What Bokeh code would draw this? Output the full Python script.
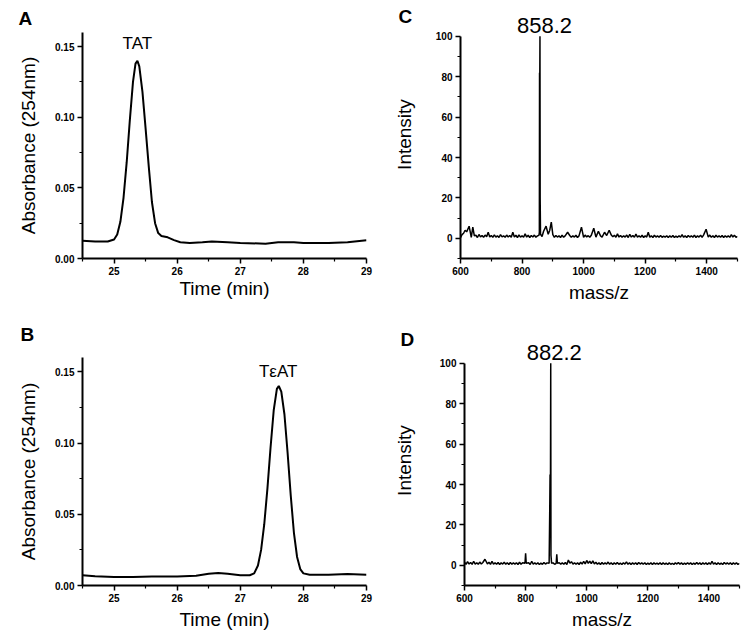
from bokeh.plotting import figure
from bokeh.layouts import column, row
from bokeh.models import Label, FixedTicker, PrintfTickFormatter, Range1d
from bokeh.embed import file_html
from bokeh.resources import INLINE

# ---- Data: HPLC chromatograms ----
time_a = [24.5, 24.7, 24.9, 25.0, 25.05, 25.1, 25.15, 25.2, 25.25, 25.3, 25.34, 25.37, 25.4,
          25.45, 25.5, 25.55, 25.6, 25.65, 25.7, 25.75, 25.85, 25.95, 26.05, 26.2, 26.4, 26.55,
          26.8, 27.0, 27.4, 27.6, 27.85, 28.0, 28.4, 28.7, 29.0]
abs_a = [0.0125, 0.012, 0.012, 0.0135, 0.017, 0.026, 0.043, 0.068, 0.098, 0.125, 0.138, 0.140, 0.136,
         0.118, 0.092, 0.065, 0.040, 0.025, 0.018, 0.016, 0.015, 0.013, 0.0115, 0.011, 0.0115, 0.012,
         0.0115, 0.011, 0.0105, 0.0115, 0.0115, 0.011, 0.011, 0.0115, 0.013]

time_b = [24.5, 24.7, 25.0, 25.3, 25.6, 26.0, 26.3, 26.5, 26.65, 26.8, 27.0, 27.15, 27.22, 27.28,
          27.33, 27.38, 27.43, 27.48, 27.53, 27.58, 27.61, 27.65, 27.7, 27.75, 27.8, 27.85, 27.9,
          27.95, 28.0, 28.1, 28.4, 28.7, 29.0]
abs_b = [0.0072, 0.0065, 0.006, 0.006, 0.0063, 0.0063, 0.0068, 0.0082, 0.0088, 0.0082, 0.0072, 0.0072,
         0.0085, 0.014, 0.025, 0.043, 0.068, 0.097, 0.123, 0.138, 0.140, 0.136, 0.12, 0.093, 0.063,
         0.037, 0.02, 0.0115, 0.0085, 0.0075, 0.0075, 0.008, 0.0075]

# ---- Data: mass spectra (baseline noise read every 5 m/z, plus peaks) ----
grid_mz = list(range(600, 1501, 5))
noise_c = [0.3, 1.8, 2.5, 0.6, 3.2, 1.0, 4.0, 0.5, 5.5, 1.2, 1.5, 0.4, 1.9, 0.7, 1.4, 0.5, 1.6, 0.8, 2.8, 0.6,
           1.4, 0.5, 1.7, 0.6, 1.3, 0.4, 1.8, 0.7, 1.2, 0.5, 1.6, 0.6, 1.4, 0.5, 3.0, 0.6, 1.5, 0.4, 1.7, 0.6,
           1.3, 0.5, 2.2, 0.6, 1.5, 0.4, 1.4, 0.6, 1.6, 0.5, 1.2, 0.5, 1.0, 0.9, 3.5, 1.2, 5.5, 2.0, 4.0, 1.5,
           1.8, 0.5, 1.4, 0.6, 1.3, 0.4, 1.6, 0.5, 1.2, 3.0, 0.6, 1.4, 0.5, 1.3, 0.6, 1.5, 0.4, 1.2, 0.6, 2.0,
           0.5, 1.6, 0.7, 1.3, 0.5, 1.5, 2.5, 1.8, 0.6, 1.4, 3.0, 1.2, 0.6, 1.8, 2.6, 1.4, 1.0, 2.2, 1.6, 0.8,
           1.5, 0.5, 2.2, 0.6, 1.4, 0.5, 1.3, 0.6, 1.6, 0.4, 2.0, 0.6, 1.4, 0.5, 2.1, 0.6, 1.3, 0.5, 1.5, 0.4,
           1.2, 0.6, 2.5, 0.5, 1.3, 0.4, 1.5, 0.6, 1.2, 0.5, 1.4, 0.5, 1.1, 0.6, 1.3, 0.4, 1.2, 0.5, 1.4, 0.4,
           1.1, 0.5, 1.3, 0.6, 1.8, 0.5, 1.2, 0.4, 1.4, 0.6, 1.3, 0.5, 1.6, 0.4, 1.2, 0.6, 1.5, 0.5, 1.7, 0.6,
           2.2, 0.6, 1.6, 0.5, 1.3, 0.4, 1.5, 0.6, 1.2, 0.5, 1.4, 0.4, 1.3, 0.6, 1.2, 0.5, 1.8, 0.6, 1.5, 0.5,
           1.0]
peak_mz_c = [615, 628, 690, 770, 855, 856.2, 856.8, 857.6, 858.2, 858.8, 860, 878, 895,
             948, 993, 1033, 1048, 1068, 1083, 1210, 1398]
peak_int_c = [4.0, 6.0, 3.0, 3.0, 1.5, 3.0, 82, 80, 100, 20, 2.0, 6.0, 8.0,
              3.0, 5.5, 5.0, 3.5, 3.0, 4.0, 3.0, 4.5]

noise_d = [1.5, 0.5, 1.8, 0.6, 1.4, 0.5, 2.0, 0.6, 1.3, 0.5, 1.6, 0.6, 1.4, 0.5, 2.8, 0.7, 1.5, 0.5, 1.9, 0.6,
           1.3, 0.5, 1.4, 0.4, 1.2, 0.6, 1.5, 0.5, 1.3, 0.4, 1.4, 0.5, 1.2, 0.6, 1.3, 0.4, 1.5, 0.5, 1.3, 0.6,
           1.2, 0.5, 1.3, 0.4, 2.0, 0.6, 1.2, 0.5, 1.3, 0.4, 1.1, 0.5, 1.4, 0.6, 1.2, 0.5, 0.8, 0.5, 1.2, 0.5,
           1.0, 0.5, 1.3, 0.6, 1.2, 0.5, 1.4, 0.4, 2.6, 1.0, 1.8, 0.6, 1.3, 0.5, 1.2, 0.4, 1.5, 0.6, 1.9, 0.7,
           2.4, 1.0, 2.0, 0.8, 2.2, 0.7, 1.5, 0.5, 1.2, 0.4, 1.4, 0.5, 1.2, 0.6, 1.6, 0.5, 1.3, 0.4, 1.2, 0.5,
           1.4, 0.5, 1.1, 0.4, 1.3, 0.6, 1.7, 0.5, 1.2, 0.4, 1.2, 0.5, 1.3, 0.4, 1.4, 0.6, 1.2, 0.5, 1.3, 0.4,
           1.1, 0.5, 1.3, 0.4, 1.2, 0.6, 1.1, 0.5, 1.3, 0.4, 1.2, 0.5, 1.1, 0.4, 1.2, 0.5, 1.0, 0.4, 1.3, 0.6,
           1.4, 0.5, 1.2, 0.4, 1.1, 0.5, 1.3, 0.6, 1.2, 0.4, 1.1, 0.5, 1.4, 0.5, 1.2, 0.4, 1.3, 0.5, 1.2, 0.4,
           1.3, 0.5, 2.0, 0.6, 1.2, 0.4, 1.3, 0.5, 1.1, 0.4, 1.4, 0.6, 1.2, 0.5, 1.3, 0.4, 1.2, 0.5, 1.3, 0.4,
           0.9]
peak_mz_d = [667, 798, 800, 802, 877, 879, 880, 881, 882.2, 883, 885, 900, 902, 904]
peak_int_d = [3.0, 1.0, 6.0, 1.0, 1.0, 28, 45, 16, 100, 5.0, 1.0, 1.0, 5.5, 1.0]

time_ticks = [25, 26, 27, 28, 29]
abs_ticks = [0.00, 0.05, 0.10, 0.15]
mz_ticks = [600, 800, 1000, 1200, 1400]
int_ticks = [0, 20, 40, 60, 80, 100]


def merge(grid, noise, pmz, pint):
    pts = [(m, v) for m, v in zip(grid, noise) if all(abs(m - q) > 4 for q in pmz)]
    pts += list(zip(pmz, pint))
    pts.sort()
    return [p[0] for p in pts], [p[1] for p in pts]


mz_c, int_c = merge(grid_mz, noise_c, peak_mz_c, peak_int_c)
mz_d, int_d = merge(grid_mz, noise_d, peak_mz_d, peak_int_d)

FONT = "Liberation Sans"
W = 375


def style(p, xlabel, ylabel):
    p.outline_line_color = None
    p.grid.visible = False
    for ax in (p.xaxis[0], p.yaxis[0]):
        ax.axis_line_width = 2
        ax.axis_line_color = "black"
        ax.major_tick_line_width = 1.5
        ax.minor_tick_line_width = 1.2
        ax.major_tick_out = 5
        ax.major_tick_in = 0
        ax.minor_tick_out = 3
        ax.minor_tick_in = 0
        ax.major_label_text_font = FONT
        ax.major_label_text_font_style = "bold"
        ax.major_label_text_font_size = "10px"
        ax.major_label_text_color = "black"
        ax.axis_label_text_font = FONT
        ax.axis_label_text_font_style = "normal"
        ax.axis_label_text_font_size = "19px"
        ax.axis_label_text_color = "black"
        ax.major_label_standoff = 3
    p.xaxis.axis_label = xlabel
    p.yaxis.axis_label = ylabel


def panel_letter(p, off, standoff):
    tt = p.title
    tt.align = "left"
    tt.offset = off
    tt.standoff = standoff
    tt.text_font = FONT
    tt.text_font_style = "bold"
    tt.text_font_size = "19px"
    tt.text_color = "black"


def note(p, txt, x, y, yo, size):
    p.add_layout(Label(x=x, y=y, y_offset=yo, text=txt, text_font=FONT,
                       text_font_size=size, text_align="center",
                       text_baseline="middle", text_color="black"))


def chrom(name, t, a, h, bt, bb, off, standoff, xstand):
    p = figure(title=name, width=W, height=h, output_backend="svg", toolbar_location=None,
               x_range=Range1d(24.5, 29), y_range=Range1d(0, 0.16), frame_align=False,
               min_border_left=82, min_border_right=9, min_border_top=bt, min_border_bottom=bb)
    p.line(t, a, line_color="black", line_width=2)
    style(p, "Time (min)", "Absorbance (254nm)")
    p.xaxis.axis_label_standoff = xstand
    p.yaxis.axis_label_standoff = 13
    p.xaxis.ticker = FixedTicker(ticks=time_ticks, minor_ticks=[24.5, 25.5, 26.5, 27.5, 28.5])
    p.yaxis.ticker = FixedTicker(ticks=abs_ticks, minor_ticks=[0.025, 0.075, 0.125])
    p.yaxis.formatter = PrintfTickFormatter(format="%.2f")
    panel_letter(p, off, standoff)
    return p


def spec(name, m, i, h, bl, br, bt, bb, ytop, ystand, off, standoff):
    # frame reaches above 100 so the peak label sits inside it; the axis stops at 100
    p = figure(title=name, width=W, height=h, output_backend="svg", toolbar_location=None,
               x_range=Range1d(600, 1500), y_range=Range1d(-10, ytop), frame_align=False,
               min_border_left=bl, min_border_right=br, min_border_top=bt, min_border_bottom=bb)
    p.line(m, i, line_color="black", line_width=1.5)
    style(p, "mass/z", "Intensity")
    p.yaxis.bounds = (-10, 100)
    p.xaxis.axis_label_standoff = 4
    p.yaxis.axis_label_standoff = ystand
    p.xaxis.ticker = FixedTicker(ticks=mz_ticks, minor_ticks=[700, 900, 1100, 1300, 1500])
    p.yaxis.ticker = FixedTicker(ticks=int_ticks, minor_ticks=[-10, 10, 30, 50, 70, 90])
    panel_letter(p, off, standoff)
    return p


pa = chrom("A", time_a, abs_a, 305, 32, 47, -64, 8, 0)
note(pa, "TAT", 25.37, 0.152, 0, "17px")

pb = chrom("B", time_b, abs_b, 327, 52, 47, -62, 26, 4)
note(pb, "TεAT", 27.6, 0.15, 0, "17px")

pc = spec("C", mz_c, int_c, 305, 85, 13, 10, 46, 112.8, 18, -62, -32)
note(pc, "858.2", 873, 100, 11, "22px")

pd = spec("D", mz_d, int_d, 327, 89, 11, 30, 46, 113.8, 22, -64, -28)
note(pd, "882.2", 894, 100, 11, "22px")

layout = column(row(pa, pc), row(pb, pd))
open("out.html", "w").write(file_html(layout, INLINE))
